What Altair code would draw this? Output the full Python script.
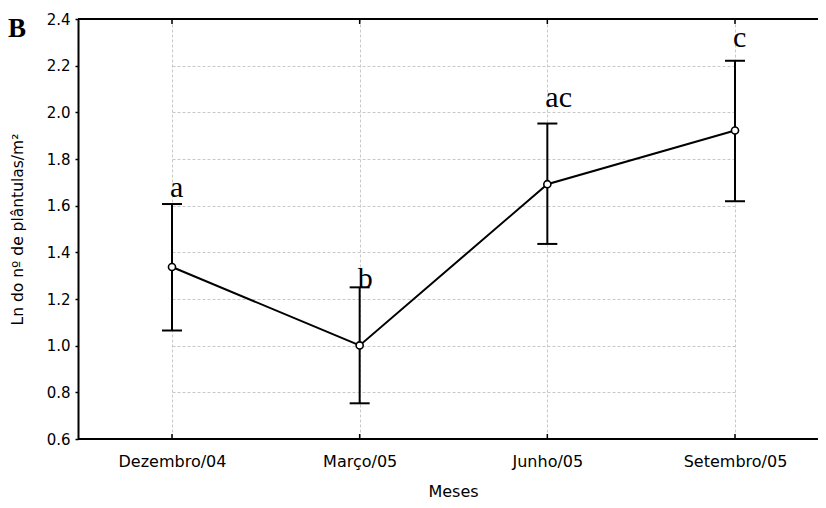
import altair as alt
import pandas as pd

months = ["Dezembro/04", "Março/05", "Junho/05", "Setembro/05"]
means = [1.337, 1.001, 1.692, 1.922]
upper = [1.607, 1.250, 1.952, 2.221]
lower = [1.065, 0.753, 1.436, 1.619]
letters = ["a", "b", "ac", "c"]
letter_y = [1.639, 1.249, 2.025, 2.282]
y_ticks = [0.6, 0.8, 1.0, 1.2, 1.4, 1.6, 1.8, 2.0, 2.2, 2.4]

df = pd.DataFrame({"mes": months, "m": means, "hi": upper, "lo": lower,
                   "lab": letters, "ly": letter_y})

W, H = 740, 420
SANS = "DejaVu Sans"
SERIF = "Liberation Serif"
YT = "Ln do nº de plântulas/m²"

xenc = alt.X("mes:N", sort=months,
             scale=alt.Scale(type="point", range=[94, 657], padding=0),
             axis=alt.Axis(title="Meses", ticks=False, tickSize=0, labelPadding=14,
                           labelAngle=0, titlePadding=14, titleX=375, domain=False,
                           grid=True, gridColor="#c8c8c8", gridDash=[3, 2], gridWidth=1,
                           labelFont=SANS, labelFontSize=16, labelColor="black",
                           titleFont=SANS, titleFontSize=16, titleFontWeight="normal",
                           titleColor="black"))
yscale = alt.Scale(domain=[0.6, 2.4], nice=False, zero=False)
yaxis = alt.Axis(values=y_ticks, format=".1f", tickSize=3, tickWidth=1.5, tickColor="black",
                 labelPadding=5, grid=True, gridColor="#c8c8c8", gridDash=[3, 2], gridWidth=1,
                 domainColor="black", domainWidth=2,
                 labelFont=SANS, labelFontSize=15, labelColor="black",
                 titleFont=SANS, titleFontSize=15.5, titleFontWeight="normal", titleColor="black",
                 titleX=-53, titleBaseline="bottom")

base = alt.Chart(df).encode(x=xenc)

line = base.mark_line(color="black", strokeWidth=2).encode(
    y=alt.Y("m:Q", scale=yscale, axis=yaxis, title=YT))
bars = base.mark_rule(color="black", strokeWidth=2).encode(
    y=alt.Y("lo:Q", scale=yscale, axis=yaxis, title=YT), y2="hi:Q")
cap_hi = base.mark_tick(color="black", size=20, thickness=2, opacity=1).encode(
    y=alt.Y("hi:Q", scale=yscale, axis=yaxis, title=YT))
cap_lo = base.mark_tick(color="black", size=20, thickness=2, opacity=1).encode(
    y=alt.Y("lo:Q", scale=yscale, axis=yaxis, title=YT))
pts = base.mark_point(shape="circle", filled=False, fill="white", fillOpacity=1,
                      stroke="black", strokeWidth=1.6, size=50, opacity=1).encode(
    y=alt.Y("m:Q", scale=yscale, axis=yaxis, title=YT))
labs = base.mark_text(font=SERIF, fontSize=30, align="left", dx=-2,
                      baseline="alphabetic", color="black").encode(
    y=alt.Y("ly:Q", scale=yscale, axis=yaxis, title=YT), text="lab:N")
top_ticks = base.mark_rule(color="black", strokeWidth=1.5).encode(
    y=alt.value(0), y2=alt.value(5))
bot_ticks = base.mark_rule(color="black", strokeWidth=1.5).encode(
    y=alt.value(H - 5), y2=alt.value(H))
one = pd.DataFrame({"k": [0]})
top_border = alt.Chart(one).mark_rule(color="black", strokeWidth=2).encode(
    x=alt.value(0), x2=alt.value(W), y=alt.value(0))
bot_border = alt.Chart(one).mark_rule(color="black", strokeWidth=2).encode(
    x=alt.value(0), x2=alt.value(W), y=alt.value(H))
panel = alt.Chart(pd.DataFrame({"t": ["B"]})).mark_text(
    font=SERIF, fontSize=27, fontWeight="bold", align="center", baseline="alphabetic",
    color="black").encode(x=alt.value(-61), y=alt.value(18), text="t:N")

chart = alt.layer(line, bars, cap_hi, cap_lo, pts, labs, top_ticks, bot_ticks,
                  top_border, bot_border, panel).properties(
    width=W, height=H,
    autosize=alt.AutoSizeParams(type="none"),
    padding={"left": 70, "top": 11, "right": 0, "bottom": 61},
).configure_view(stroke=None).configure(background="white")

chart.save("out.html", embed_options={"renderer": "svg", "actions": False})
